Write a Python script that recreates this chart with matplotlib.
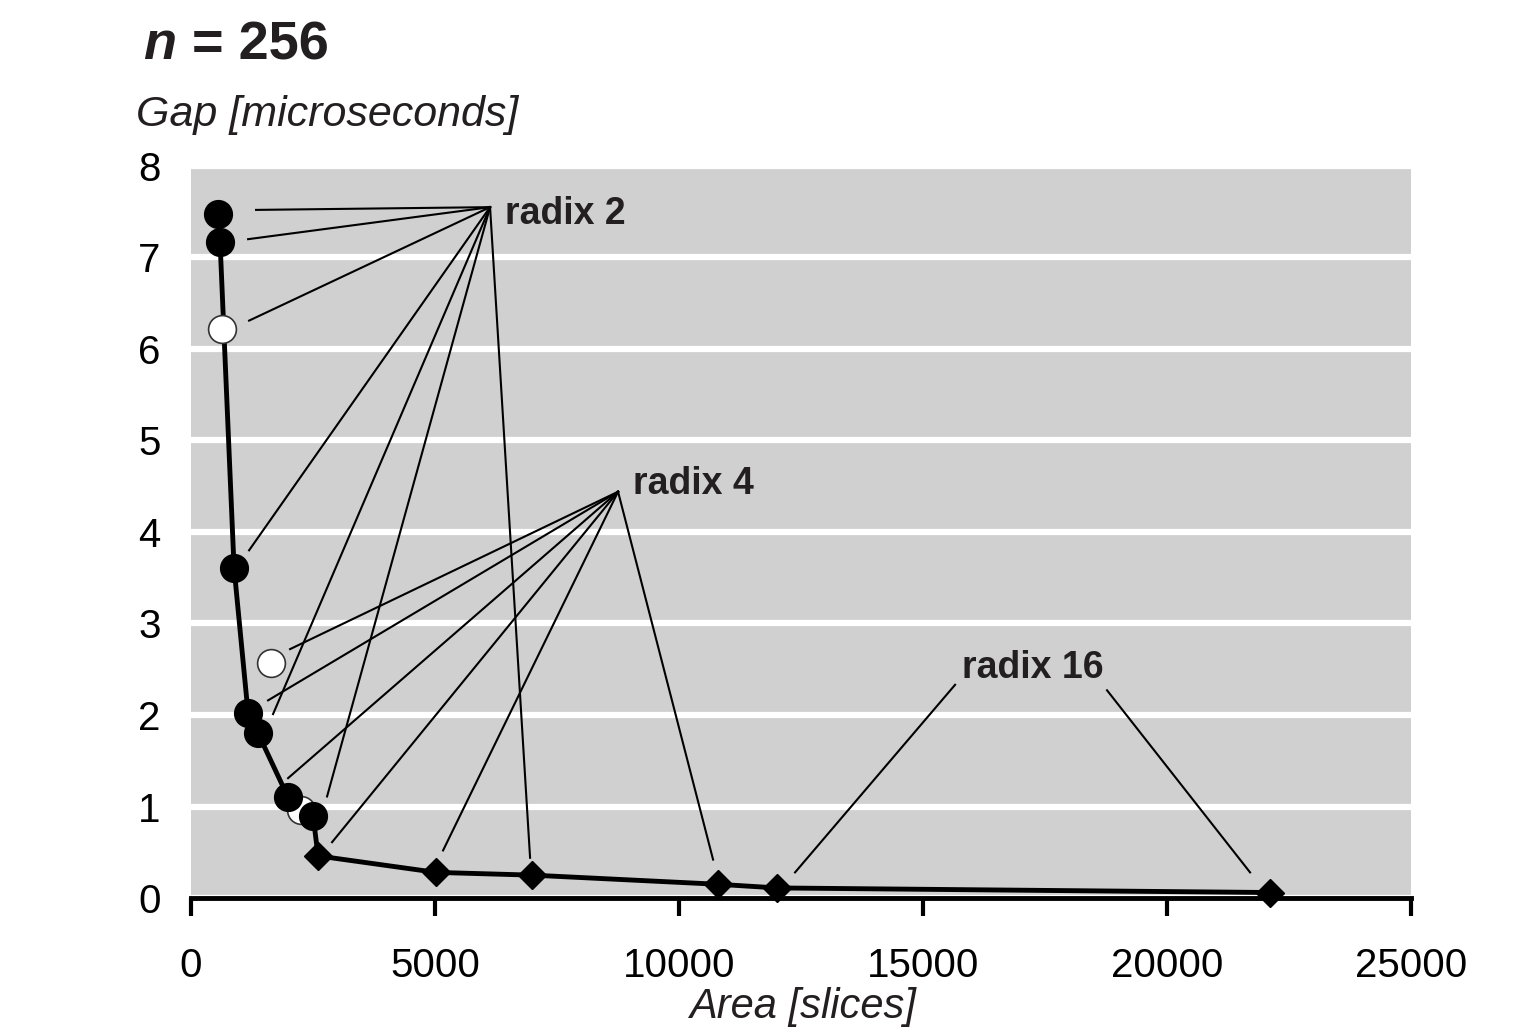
import matplotlib
matplotlib.use("Agg")
import matplotlib.pyplot as plt

plt.rcParams['font.family'] = ['Liberation Sans', 'DejaVu Sans']

# Data (area in slices, gap in microseconds)
filled_x = [553, 594, 881, 1168, 1373, 1988, 2500]
filled_y = [7.47, 7.17, 3.61, 2.02, 1.80, 1.10, 0.90]
diamond_x = [2602, 5020, 6988, 10799, 12008, 22110]
diamond_y = [0.46, 0.28, 0.25, 0.15, 0.11, 0.06]
open_x = [635, 1639, 2254]
open_y = [6.22, 2.57, 0.96]
x_ticks = [0, 5000, 10000, 15000, 20000, 25000]
y_ticks = [0, 1, 2, 3, 4, 5, 6, 7, 8]

W, H = 1514, 1029
fig = plt.figure(figsize=(W / 100, H / 100), dpi=100)
ax = fig.add_axes([0.1262, 0.1273, 0.932 - 0.1262, 0.8387 - 0.1273])
ax.set_facecolor('#cfd0cf')
ax.set_xlim(0, 25000)
ax.set_ylim(0, 8)

for s in ['top', 'right', 'left']:
    ax.spines[s].set_visible(False)
ax.spines['bottom'].set_linewidth(3.5)
ax.spines['bottom'].set_zorder(6)

ax.set_yticks(y_ticks)
ax.set_xticks(x_ticks)
ax.tick_params(axis='y', length=0, labelsize=29, pad=22)
ax.tick_params(axis='x', length=13, width=3, labelsize=29, pad=22, direction='out')
ax.yaxis.grid(True, color='white', linewidth=4.5)
ax.set_axisbelow(True)

# main line
line_x = filled_x + diamond_x
line_y = filled_y + diamond_y
ax.plot(line_x, line_y, color='black', linewidth=3.5, zorder=3)
ax.plot(open_x, open_y, 'o', markersize=20, markerfacecolor='white',
        markeredgecolor='#333333', markeredgewidth=1.2, zorder=4, clip_on=False)
ax.plot(filled_x, filled_y, 'o', markersize=20, color='black', zorder=5, clip_on=False)
ax.plot(diamond_x, diamond_y, 'D', markersize=14, color='black', zorder=5, clip_on=False)

# leader lines
lw = 1.5
r2_anchor = (6127, 7.55)
r2_ends = [(1332, 7.52), (1168, 7.20), (1189, 6.31), (1189, 3.80),
           (1680, 2.01), (2787, 1.11), (6947, 0.44)]
r4_anchor = (8750, 4.44)
r4_ends = [(2029, 2.72), (1578, 2.16), (1988, 1.31), (2889, 0.61),
           (5164, 0.52), (10697, 0.42)]
for (ex, ey) in r2_ends:
    ax.plot([r2_anchor[0], ex], [r2_anchor[1], ey], color='black', lw=lw, zorder=2.5)
for (ex, ey) in r4_ends:
    ax.plot([r4_anchor[0], ex], [r4_anchor[1], ey], color='black', lw=lw, zorder=2.5)
ax.plot([15656, 12377], [2.33, 0.28], color='black', lw=lw, zorder=2.5)
ax.plot([18770, 21701], [2.27, 0.28], color='black', lw=lw, zorder=2.5)

txtc = '#231f20'
ax.text(6430, 7.48, 'radix 2', fontsize=27, fontweight='bold', color=txtc, va='center', ha='left')
ax.text(9050, 4.52, 'radix 4', fontsize=27, fontweight='bold', color=txtc, va='center', ha='left')
ax.text(15800, 2.51, 'radix 16', fontsize=27, fontweight='bold', color=txtc, va='center', ha='left')

t_n = fig.text(143 / W, 1 - 45 / H, 'n', fontsize=39, fontweight='bold', style='italic',
               color=txtc, va='center', ha='left')
fig.canvas.draw()
bb = t_n.get_window_extent(renderer=fig.canvas.get_renderer())
fig.text((bb.x1 + 16) / W, 1 - 45 / H, '= 256', fontsize=39, fontweight='bold',
         color=txtc, va='center', ha='left')
fig.text(136 / W, 1 - 115 / H, 'Gap [microseconds]', fontsize=31, style='italic', color=txtc, va='center', ha='left')
fig.text(803 / W, 2 / H, 'Area [slices]', fontsize=30, style='italic', color=txtc, va='bottom', ha='center')

fig.savefig('out.png', dpi=100)
